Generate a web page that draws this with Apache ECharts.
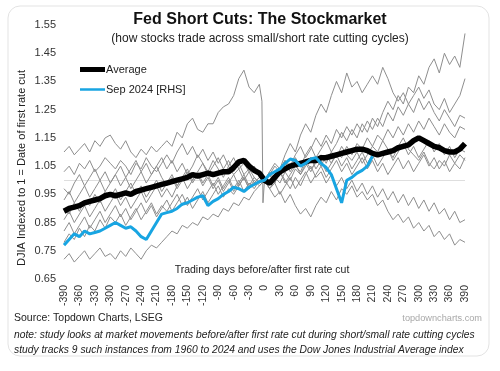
<!DOCTYPE html>
<html><head><meta charset="utf-8">
<script src="https://cdn.jsdelivr.net/npm/echarts@6/dist/echarts.min.js"></script>
<style>html,body{margin:0;padding:0;background:#fff}#c{width:500px;height:371px}</style>
</head><body><div id="c"></div>
<script>
// x: trading days, sampled every 10 days from -390 to 390
const dayStart = -390, dayStep = 10;
const xTicks = [-390,-360,-330,-300,-270,-240,-210,-180,-150,-120,-90,-60,-30,0,30,60,90,120,150,180,210,240,270,300,330,360,390];
const yTicks = [0.65,0.75,0.85,0.95,1.05,1.15,1.25,1.35,1.45,1.55];

const average = [
0.89,0.90,0.905,0.91,0.92,0.925,0.93,0.935,0.945,0.95,
0.945,0.95,0.955,0.95,0.96,0.965,0.97,0.975,0.98,0.985,
0.99,0.995,1.00,1.005,1.01,1.02,1.015,1.02,1.025,1.02,
1.025,1.03,1.03,1.045,1.065,1.07,1.05,1.035,1.025,
1.00,
0.99,1.01,1.03,1.04,1.05,1.055,1.06,1.065,1.07,1.07,
1.08,1.08,1.085,1.09,1.095,1.10,1.105,1.11,1.11,1.105,
1.095,1.09,1.095,1.10,1.105,1.115,1.12,1.125,1.14,1.15,
1.14,1.13,1.12,1.115,1.105,1.10,1.10,1.11,1.13];

const sep2024 = [
0.77,0.79,0.81,0.80,0.82,0.81,0.815,0.82,0.83,0.84,
0.85,0.84,0.83,0.835,0.82,0.80,0.79,0.82,0.85,0.88,
0.885,0.89,0.90,0.915,0.92,0.93,0.94,0.945,0.91,0.925,
0.935,0.95,0.96,0.975,0.97,0.96,0.975,0.985,0.995,
1.00,
1.02,1.03,1.04,1.06,1.075,1.07,1.05,1.06,1.075,1.08,
1.06,1.045,1.02,0.97,0.92,1.00,1.01,1.025,1.035,1.05,1.085];

const cycle1 = [
1.10,1.12,1.09,1.11,1.13,1.10,1.14,1.12,1.15,1.16,
1.13,1.11,1.14,1.10,1.08,1.11,1.09,1.12,1.10,1.12,
1.14,1.12,1.17,1.15,1.20,1.22,1.18,1.17,1.20,1.20,
1.24,1.26,1.27,1.30,1.36,1.39,1.33,1.31,1.34,
1.00,
0.97,1.00,1.03,0.99,1.02,1.05,1.03,1.07,1.04,1.06,
1.09,1.06,1.10,1.08,1.12,1.09,1.07,1.10,1.06,1.09,
1.12,1.10,1.14,1.11,1.08,1.12,1.15,1.11,1.09,1.07,
1.10,1.06,1.04,1.07,1.05,1.09,1.06,1.04,1.08];
const cycle1CrashDays = [-5,-3];
const cycle1CrashVals = [1.28,0.92];

const cycle2 = [
1.03,1.05,1.02,1.06,1.04,1.07,1.03,1.05,1.08,1.06,
1.04,1.07,1.05,1.02,1.06,1.04,1.08,1.05,1.03,1.06,
1.09,1.06,1.10,1.13,1.09,1.12,1.08,1.11,1.07,1.10,
1.06,1.09,1.05,1.08,1.04,1.06,1.03,1.05,1.02,
1.00,
1.02,0.99,1.03,1.06,1.04,1.08,1.05,1.09,1.12,1.08,
1.11,1.14,1.10,1.13,1.17,1.14,1.18,1.15,1.20,1.17,
1.22,1.19,1.24,1.28,1.25,1.30,1.27,1.33,1.31,1.37,
1.34,1.40,1.43,1.38,1.45,1.41,1.44,1.40,1.52];

const cycle3 = [
0.97,0.95,0.99,1.02,0.98,1.01,1.04,1.00,1.03,0.99,
1.02,1.05,1.01,1.04,1.07,1.03,1.06,1.02,1.05,1.08,
1.04,1.07,1.03,1.06,1.02,1.05,1.09,1.06,1.03,1.07,
1.04,1.01,1.05,1.02,1.04,1.00,1.03,0.99,1.01,
1.00,
1.03,1.06,1.04,1.09,1.13,1.10,1.16,1.20,1.17,1.23,
1.27,1.24,1.30,1.35,1.31,1.38,1.33,1.35,1.31,1.34,
1.37,1.34,1.40,1.36,1.31,1.28,1.31,1.27,1.30,1.33,
1.29,1.32,1.27,1.25,1.29,1.24,1.27,1.30,1.36];

const cycle4 = [
0.93,0.96,0.92,0.95,0.98,0.94,0.97,1.00,0.96,0.99,
1.02,0.98,1.01,0.97,1.00,1.03,0.99,1.02,1.05,1.01,
0.98,1.01,0.97,1.00,1.03,0.99,1.02,0.98,1.01,0.97,
1.00,0.96,0.99,1.02,0.98,1.01,0.97,0.99,1.01,
1.00,
1.02,1.05,1.03,1.07,1.05,1.09,1.12,1.08,1.11,1.15,
1.12,1.16,1.13,1.18,1.15,1.19,1.16,1.20,1.17,1.21,
1.18,1.22,1.19,1.24,1.21,1.26,1.23,1.27,1.24,1.29,
1.25,1.28,1.24,1.21,1.25,1.22,1.19,1.23,1.22];

const cycle5 = [
0.90,0.88,0.92,0.89,0.93,0.91,0.95,0.92,0.96,0.94,
0.97,0.93,0.96,0.99,0.95,0.98,0.94,0.97,1.00,0.96,
0.99,1.02,0.98,1.01,1.04,1.00,1.03,1.06,1.02,1.05,
1.08,1.04,1.07,1.03,1.06,1.02,1.04,1.01,0.99,
1.00,
0.98,1.01,0.99,1.03,1.00,1.04,1.02,1.06,1.03,1.07,
1.05,1.09,1.06,1.10,1.08,1.12,1.09,1.13,1.11,1.15,
1.12,1.16,1.14,1.18,1.15,1.19,1.16,1.20,1.17,1.21,
1.18,1.22,1.19,1.16,1.20,1.17,1.15,1.19,1.18];

const cycle6 = [
0.86,0.89,0.85,0.88,0.91,0.87,0.90,0.93,0.89,0.92,
0.95,0.91,0.94,0.90,0.93,0.96,0.92,0.95,0.98,0.94,
0.97,0.94,0.98,1.01,0.97,1.00,1.03,0.99,1.02,0.98,
1.01,0.97,1.00,0.96,0.99,1.02,0.98,1.01,0.99,
1.00,
1.03,1.00,1.04,1.07,1.03,1.06,1.02,1.05,1.08,1.04,
1.07,1.03,1.06,1.09,1.05,1.08,1.04,1.07,1.10,1.06,
1.09,1.05,1.08,1.11,1.07,1.10,1.13,1.09,1.12,1.08,
1.11,1.14,1.10,1.13,1.09,1.12,1.08,1.11,1.10];

const cycle7 = [
0.82,0.85,0.81,0.84,0.87,0.83,0.86,0.89,0.85,0.88,
0.91,0.87,0.90,0.86,0.89,0.92,0.88,0.91,0.87,0.90,
0.93,0.89,0.92,0.95,0.91,0.94,0.97,0.93,0.96,0.99,
0.95,0.98,1.01,0.97,1.00,0.96,0.99,0.97,1.00,
1.00,
0.97,0.99,0.95,0.98,1.01,0.97,1.00,1.03,0.99,1.02,
1.05,1.01,1.04,1.07,1.03,1.06,1.02,1.05,1.08,1.04,
1.07,1.03,1.06,1.02,1.05,1.08,1.04,1.07,1.03,1.06,
1.09,1.05,1.08,1.04,1.07,1.03,1.06,1.09,1.07];

const cycle8 = [
0.78,0.81,0.79,0.83,0.80,0.84,0.82,0.86,0.83,0.87,
0.85,0.88,0.84,0.87,0.90,0.86,0.89,0.92,0.88,0.91,
0.89,0.92,0.95,0.91,0.94,0.90,0.93,0.96,0.92,0.95,
0.98,0.94,0.97,0.95,0.98,1.01,0.97,1.00,0.98,
1.00,
1.02,0.99,1.03,1.00,0.97,1.01,0.98,1.02,1.05,1.01,
1.03,0.99,1.02,0.98,1.01,0.97,1.00,0.96,0.99,0.95,
0.98,0.94,0.97,0.93,0.96,0.92,0.95,0.91,0.94,0.90,
0.93,0.89,0.92,0.88,0.90,0.86,0.89,0.85,0.86];

const cycle9 = [
0.72,0.74,0.71,0.73,0.75,0.72,0.74,0.76,0.73,0.74,
0.72,0.75,0.73,0.76,0.74,0.72,0.75,0.77,0.76,0.78,
0.80,0.82,0.81,0.84,0.83,0.85,0.84,0.87,0.86,0.88,
0.87,0.90,0.89,0.92,0.91,0.94,0.93,0.96,0.98,
1.00,
0.97,0.94,0.96,0.92,0.95,0.91,0.88,0.90,0.87,0.91,
0.94,0.92,0.96,0.93,0.97,0.95,0.98,0.94,0.96,0.93,
0.95,0.91,0.93,0.89,0.86,0.88,0.85,0.87,0.83,0.85,
0.82,0.84,0.80,0.82,0.79,0.81,0.77,0.79,0.78];

const grayCycles = [cycle1, cycle2, cycle3, cycle4, cycle5, cycle6, cycle7, cycle8, cycle9];

function pairs(vals){ return vals.map((v,i)=>[dayStart + i*dayStep, v]); }

const FONT = 'Liberation Sans, Arial, sans-serif';
const chart = echarts.init(document.getElementById('c'), null, {renderer:'canvas'});

const series = [];
grayCycles.forEach((vals, k) => {
  let data = pairs(vals);
  if (k === 0) {
    cycle1CrashDays.forEach((d,j)=>data.push([d, cycle1CrashVals[j]]));
    data.sort((a,b)=>a[0]-b[0]);
  }
  const s = {type:'line', name:'cycle'+(k+1), data, symbol:'none', silent:true,
    itemStyle:{color:'#8e8e8e'}, lineStyle:{color:'#8e8e8e', width:1}, z:2};
  if (k === 0) {
    s.markLine = {silent:true, symbol:['none','none'], label:{show:false},
      lineStyle:{color:'#dedede', width:1, type:'solid'}, data:[{yAxis:1}], z:1};
  }
  series.push(s);
});
series.push({type:'line', name:'Average', data:pairs(average), symbol:'none',
  itemStyle:{color:'#000'}, lineStyle:{color:'#000', width:5.5}, z:4});
series.push({type:'line', name:'Sep 2024 [RHS]', data:pairs(sep2024), symbol:'none',
  itemStyle:{color:'#18a5e2'}, lineStyle:{color:'#18a5e2', width:3}, z:5});

chart.setOption({
  animation:false,
  backgroundColor:'#fff',
  textStyle:{fontFamily:FONT},
  grid:{left:64, right:35, top:25, bottom:92, containLabel:false},
  title:[
    {text:'Fed Short Cuts: The Stockmarket', left:255, top:7, textAlign:'center',
     textStyle:{fontFamily:FONT, fontSize:16, fontWeight:'bold', color:'#111'}},
    {text:'(how stocks trade across small/short rate cutting cycles)', left:255, top:28, textAlign:'center',
     textStyle:{fontFamily:FONT, fontSize:12, fontWeight:'normal', color:'#222'}}
  ],
  legend:{orient:'vertical', left:75, top:59,
    itemWidth:25, itemHeight:12, itemGap:9,
    data:[
      {name:'Average', icon:'path://M0,0H25V5H0Z'},
      {name:'Sep 2024 [RHS]', icon:'path://M0,0H25V2.5H0Z'}
    ],
    textStyle:{fontFamily:FONT, fontSize:11, color:'#222', padding:[0,0,0,-4]}},
  xAxis:{type:'value', min:-390, max:390, interval:30,
    axisLine:{show:false}, axisTick:{show:false}, splitLine:{show:false},
    axisLabel:{rotate:90, fontSize:10.5, color:'#333', margin:6, fontFamily:FONT}},
  yAxis:{type:'value', min:0.65, max:1.55, interval:0.1,
    axisLine:{show:false}, axisTick:{show:false}, splitLine:{show:false},
    axisLabel:{fontSize:11, color:'#333', margin:8, fontFamily:FONT,
      formatter:v=>(+v).toFixed(2)}},
  graphic:[
    {type:'rect', shape:{x:8, y:6, width:481, height:350, r:12}, silent:true, z:-10,
     style:{fill:'none', stroke:'#e3e3e3', lineWidth:1}},
    {type:'text', x:22, y:168, rotation:Math.PI/2, silent:true,
     style:{text:'DJIA Indexed to 1 = Date of first rate cut', fontFamily:FONT, fontSize:11,
       fill:'#222', textAlign:'center', textVerticalAlign:'middle'}},
    {type:'text', x:262, y:270, silent:true,
     style:{text:'Trading days before/after first rate cut', fontFamily:FONT, fontSize:10.5,
       fill:'#222', textAlign:'center', textVerticalAlign:'middle'}},
    {type:'text', x:14, y:318, silent:true,
     style:{text:'Source: Topdown Charts, LSEG', fontFamily:FONT, fontSize:10.5,
       fill:'#222', textAlign:'left', textVerticalAlign:'middle'}},
    {type:'text', x:482, y:318, silent:true,
     style:{text:'topdowncharts.com', fontFamily:FONT, fontSize:9.2,
       fill:'#a8a8a8', textAlign:'right', textVerticalAlign:'middle'}},
    {type:'text', x:14, y:335, silent:true,
     style:{text:'note: study looks at market movements before/after first rate cut during short/small rate cutting cycles',
       fontFamily:FONT, fontSize:10.3, fontStyle:'italic', fill:'#222', textAlign:'left', textVerticalAlign:'middle'}},
    {type:'text', x:14, y:350, silent:true,
     style:{text:'study tracks 9 such instances from 1960 to 2024 and uses the Dow Jones Industrial Average index',
       fontFamily:FONT, fontSize:10.3, fontStyle:'italic', fill:'#222', textAlign:'left', textVerticalAlign:'middle'}}
  ],
  series
});
</script></body></html>
